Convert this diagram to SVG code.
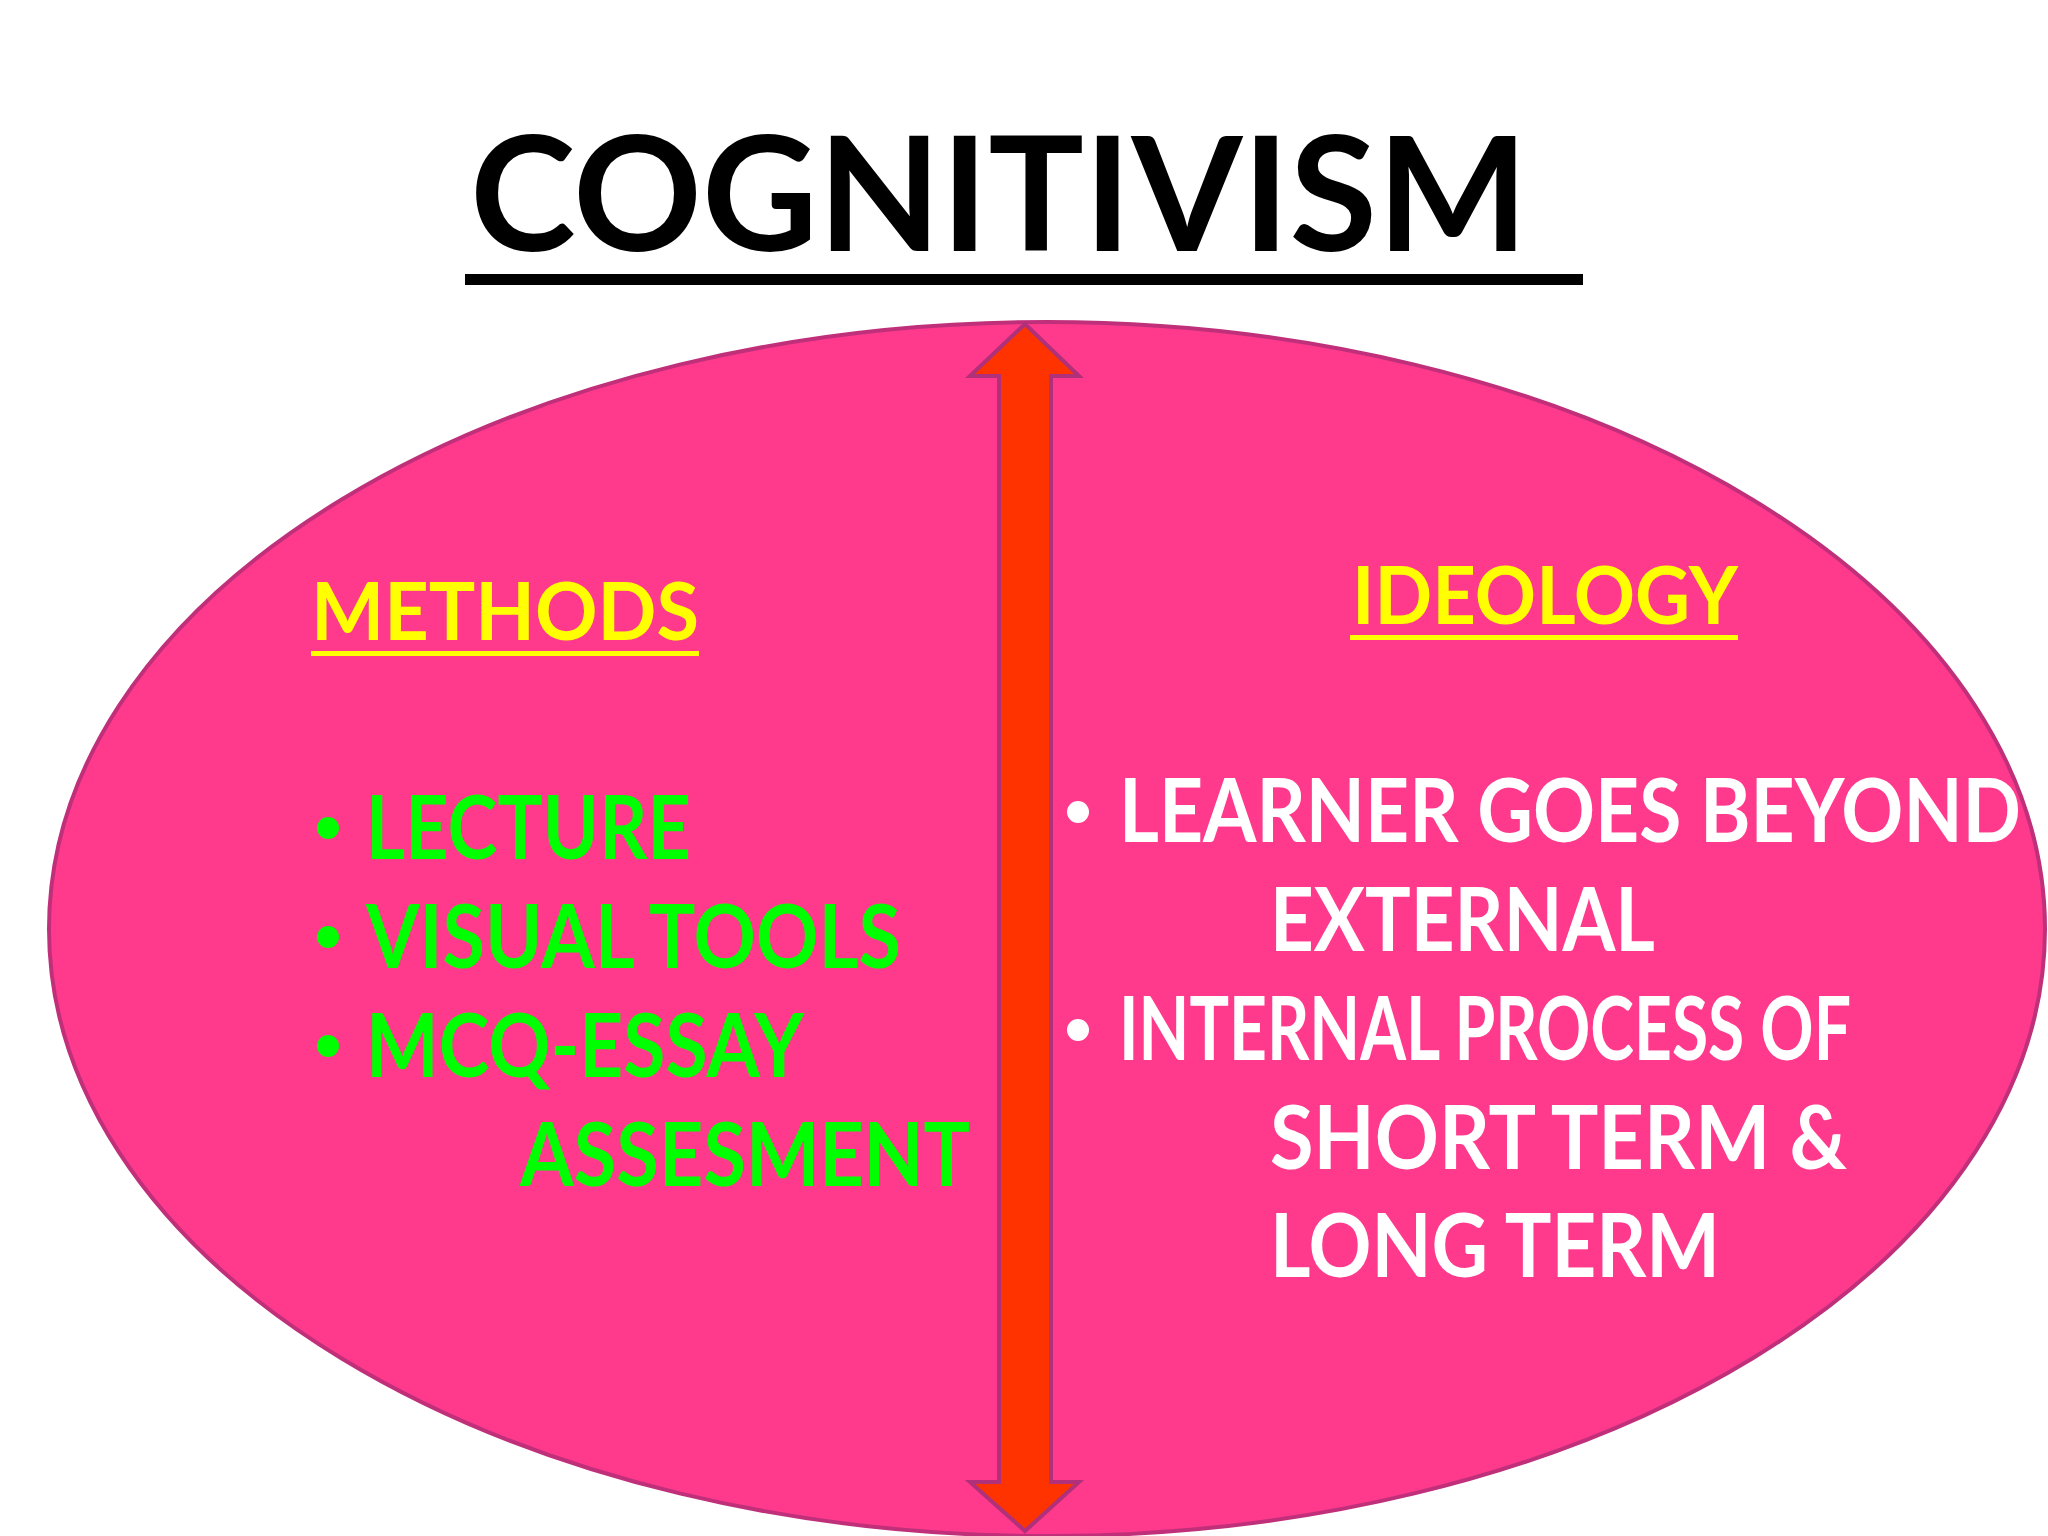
<svg xmlns="http://www.w3.org/2000/svg" width="2048" height="1536" viewBox="0 0 2048 1536">
<style>
text{font-family:Lato,"Open Sans","Liberation Sans",sans-serif;font-weight:bold}
.g{fill:#00FF00;font-size:88px}
.w{fill:#FFFFFF;font-size:88px}
.y{fill:#FFFF00;font-size:80px}
.bg{fill:#00FF00}
.bw{fill:#FFFFFF}
</style>
<rect width="2048" height="1536" fill="#fff"/>
<g id="title">
<text x="470" y="251" font-size="160" fill="#000" textLength="1058" lengthAdjust="spacingAndGlyphs">COGNITIVISM</text>
<rect x="465" y="274" width="1118" height="11" fill="#000"/>
</g>
<g id="ellipse">
<ellipse cx="1047" cy="929" rx="998" ry="607" fill="#FF3A8C" stroke="#C0307A" stroke-width="4"/>
</g>
<g id="connectors">
<polygon points="1025,324 1079,376 1051,376 1051,1482 1079,1482 1025,1531 970,1482 999,1482 999,376 970,376" fill="#FF3300" stroke="#B0307A" stroke-width="4"/>
</g>
<g id="methods">
<text class="y" x="311" y="640" textLength="388" lengthAdjust="spacingAndGlyphs">METHODS</text>
<rect x="311" y="651" width="388" height="5" fill="#FFFF00"/>
<circle class="bg" cx="328" cy="828" r="11"/>
<text class="g" x="366" y="859" textLength="325" lengthAdjust="spacingAndGlyphs">LECTURE</text>
<circle class="bg" cx="328" cy="937" r="11"/>
<text class="g" x="366" y="968" textLength="535" lengthAdjust="spacingAndGlyphs">VISUAL TOOLS</text>
<circle class="bg" cx="328" cy="1046" r="11"/>
<text class="g" x="366" y="1077" textLength="438" lengthAdjust="spacingAndGlyphs">MCQ-ESSAY</text>
<text class="g" x="520" y="1186" textLength="450" lengthAdjust="spacingAndGlyphs">ASSESMENT</text>
</g>
<g id="ideology">
<text class="y" x="1352" y="624" textLength="386" lengthAdjust="spacingAndGlyphs">IDEOLOGY</text>
<rect x="1350" y="635" width="388" height="5" fill="#FFFF00"/>
<circle class="bw" cx="1078" cy="812" r="11"/>
<text class="w" x="1119" y="842" textLength="902" lengthAdjust="spacingAndGlyphs">LEARNER GOES BEYOND</text>
<text class="w" x="1270" y="951" textLength="385" lengthAdjust="spacingAndGlyphs">EXTERNAL</text>
<circle class="bw" cx="1078" cy="1030" r="11"/>
<text class="w" x="1119" y="1060" textLength="732" lengthAdjust="spacingAndGlyphs">INTERNAL PROCESS OF</text>
<text class="w" x="1270" y="1169" textLength="577" lengthAdjust="spacingAndGlyphs">SHORT TERM &amp;</text>
<text class="w" x="1270" y="1277" textLength="450" lengthAdjust="spacingAndGlyphs">LONG TERM</text>
</g>
</svg>
